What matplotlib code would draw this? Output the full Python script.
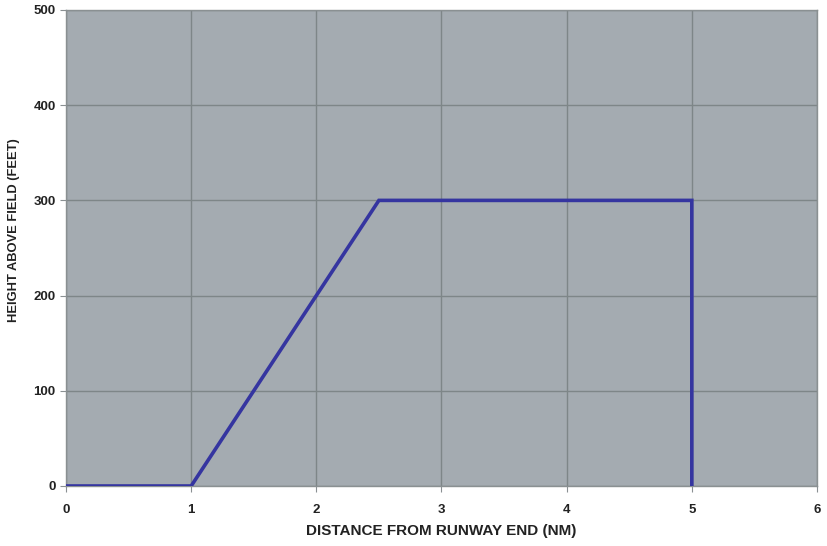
import matplotlib
matplotlib.use("Agg")
import matplotlib.pyplot as plt

plt.rcParams['font.family'] = ['Liberation Sans', 'DejaVu Sans']

# profile points
dist_nm = [0, 1, 2.5, 5, 5]
height_ft = [0, 0, 300, 300, 0]

x_ticks = [0, 1, 2, 3, 4, 5, 6]
y_ticks = [0, 100, 200, 300, 400, 500]

fig = plt.figure(figsize=(8.28, 5.46), dpi=100)
ax = fig.add_axes([0.0797, 0.1099, 0.907, 0.8718])
ax.set_facecolor('#a4abb1')

ax.plot(dist_nm, height_ft, color='#3535a0', linewidth=2.6, solid_joinstyle='miter', zorder=3)

ax.set_xlim(0, 6)
ax.set_ylim(0, 500)
ax.set_xticks(x_ticks)
ax.set_yticks(y_ticks)
ax.grid(True, color='#7e8688', linewidth=1.0)
ax.set_axisbelow(True)

for s in ax.spines.values():
    s.set_color('#8a9092')
    s.set_linewidth(1.0)

ax.tick_params(axis='both', length=4, width=0.8, color='#8a9092', labelsize=9.5)
ax.tick_params(axis='x', pad=9)
for lbl in ax.get_xticklabels() + ax.get_yticklabels():
    lbl.set_fontweight('bold')
    lbl.set_color('#222222')

ax.set_xlabel('DISTANCE FROM RUNWAY END (NM)', fontsize=11, fontweight='bold',
              labelpad=6, color='#222222')
ax.set_ylabel('HEIGHT ABOVE FIELD (FEET)', fontsize=9.3, fontweight='bold', color='#222222')
ax.yaxis.set_label_coords(-0.0613, 0.538)

fig.savefig('out.png', dpi=100, facecolor='white')
